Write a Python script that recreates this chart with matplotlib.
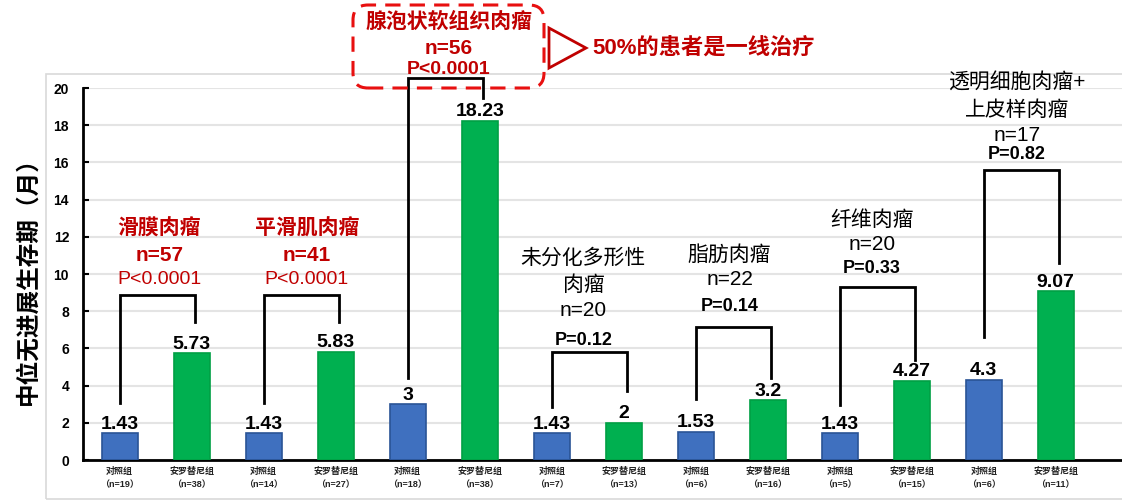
import numpy as np
import matplotlib
matplotlib.use("Agg")
import matplotlib.pyplot as plt
from matplotlib.patches import FancyBboxPatch, Polygon, Rectangle
from matplotlib.transforms import IdentityTransform

plt.rcParams['font.family'] = ['Liberation Sans', 'Noto Sans CJK SC', 'DejaVu Sans']

# bars: control / anlotinib per subtype
groups = ['滑膜肉瘤', '平滑肌肉瘤', '腺泡状软组织肉瘤', '未分化多形性\n肉瘤', '脂肪肉瘤', '纤维肉瘤', '透明细胞肉瘤+\n上皮样肉瘤']
group_n = ['n=57', 'n=41', 'n=56', 'n=20', 'n=22', 'n=20', 'n=17']
pvals = ['P<0.0001', 'P<0.0001', 'P<0.0001', 'P=0.12', 'P=0.14', 'P=0.33', 'P=0.82']
highlight = [True, True, True, False, False, False, False]
ctrl = [1.43, 1.43, 3, 1.43, 1.53, 1.43, 4.3]
anlo = [5.73, 5.83, 18.23, 2, 3.2, 4.27, 9.07]
ctrl_n = [19, 14, 18, 7, 6, 5, 6]
anlo_n = [38, 27, 38, 13, 16, 15, 11]
ctrl_lbl = ['1.43', '1.43', '3', '1.43', '1.53', '1.43', '4.3']
anlo_lbl = ['5.73', '5.83', '18.23', '2', '3.2', '4.27', '9.07']

# bracket heights (top, left end, right end)
br_top = [8.87, 8.87, 20.54, 5.8, 7.15, 9.3, 15.6]
br_left = [3.06, 3.06, 4.4, 2.85, 3.3, 2.96, 6.6]
br_right = [7.42, 7.42, 19.46, 3.7, 4.4, 5.4, 10.6]

# label text placement: x centre, y of each line (data units)
lbl_x = [0.55, 2.6, 4.57, 6.44, 8.47, 10.45, 12.46]
lbl_y = [[12.42, 11.02, 9.68], [12.42, 11.02, 9.68], [23.55, 22.15, 20.97],
         [10.86, 9.41, 8.06, 6.45], [11.02, 9.68, 8.23], [12.9, 11.56, 10.32],
         [20.27, 18.82, 17.47, 16.45]]

RED = '#c00000'
BLUE = '#3f70bf'
GREEN = '#00b050'

fig = plt.figure(figsize=(11.22, 5), dpi=100)
ax = fig.add_axes([83/1122, 40/500, 1 - 83/1122, 372/500])

# frame around chart area
fig.add_artist(Rectangle((46/1122, 1/500), 1.2, 425/500, transform=fig.transFigure,
                         fill=False, edgecolor='#d9d9d9', lw=1.2, zorder=0))

x = np.arange(len(ctrl) * 2)
heights = []
colors = []
edges = []
labels = []
ticklbl = []
for i in range(len(ctrl)):
    heights += [ctrl[i], anlo[i]]
    colors += [BLUE, GREEN]
    edges += ['#2a5496', '#00a044']
    labels += [ctrl_lbl[i], anlo_lbl[i]]
    ticklbl += ['对照组\n（n=%d）' % ctrl_n[i], '安罗替尼组\n（n=%d）' % anlo_n[i]]

ax.bar(x, heights, width=0.5, color=colors, edgecolor=edges, linewidth=1.2, zorder=3)
for xi, h, t in zip(x, heights, labels):
    ax.annotate(t, (xi, h), xytext=(0, 0.5), textcoords='offset points', ha='center', va='bottom',
                fontsize=14, fontweight='bold', color='black', zorder=5)

ax.set_xlim(-0.51, 13.92)
ax.set_ylim(0, 20)
ax.set_yticks(np.arange(0, 21, 2))
ax.yaxis.grid(True, color='#e4e4e4', lw=1.5, zorder=0)
ax.set_axisbelow(True)
ax.spines['top'].set_visible(False)
ax.spines['right'].set_visible(False)
ax.spines['left'].set_linewidth(2)
ax.spines['bottom'].set_linewidth(2)
ax.tick_params(axis='y', direction='in', length=4, width=1.5, labelsize=10, pad=10)
for t in ax.get_yticklabels():
    t.set_fontweight('bold')
ax.set_xticks(x)
ax.set_xticklabels(ticklbl, fontsize=6.5, fontweight='bold', color='#222222', linespacing=1.6)
ax.tick_params(axis='x', length=0, pad=5)

fig.text(28/1122, 0.45, '中位无进展生存期（月）', rotation=90, ha='center', va='center',
         fontsize=17, fontweight='bold')

# brackets and group labels
for i in range(len(groups)):
    xl = 2 * i
    xr = 2 * i + 1.05
    ax.plot([xl, xl, xr, xr], [br_left[i], br_top[i], br_top[i], br_right[i]],
            color='black', lw=2, zorder=4, clip_on=False, solid_joinstyle='miter')
    lines = groups[i].split('\n') + [group_n[i], pvals[i]]
    for j, (txt, yy) in enumerate(zip(lines, lbl_y[i])):
        is_p = j == len(lines) - 1
        if highlight[i]:
            ax.text(lbl_x[i], yy, txt, ha='center', va='center', color=RED,
                    fontsize=15 if not is_p else 14,
                    fontweight='bold' if (not is_p or i == 2) else 'normal', clip_on=False)
        else:
            ax.text(lbl_x[i], yy, txt, ha='center', va='center', color='black',
                    fontsize=15 if not is_p else 13,
                    fontweight='bold' if is_p else 'normal', clip_on=False)

# dashed highlight box and arrow note (pixel coordinates)
box = FancyBboxPatch((368, 427), 161, 53, boxstyle='round,pad=15', transform=IdentityTransform(),
                     fill=False, edgecolor='#e81010', lw=2.2, linestyle=(0, (5, 3)))
fig.add_artist(box)
tri = Polygon([(549, 472), (549, 432), (586, 452)], closed=True, transform=IdentityTransform(),
              fill=False, edgecolor=RED, lw=2)
fig.add_artist(tri)
fig.text(592/1122, 1 - 48/500, '50%的患者是一线治疗', ha='left', va='center', color=RED,
         fontsize=16, fontweight='bold')

fig.savefig('out.png', dpi=100)
